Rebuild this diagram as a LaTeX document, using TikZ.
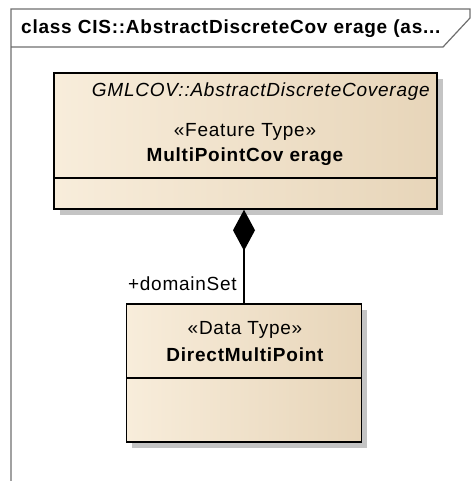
\documentclass[tikz,border=0pt]{standalone}
\usepackage{fontspec}
\setmainfont{Liberation Sans}[LetterSpace=4]
\usetikzlibrary{arrows.meta}
\definecolor{frameline}{HTML}{6E6E6E}
\definecolor{cleft}{HTML}{F8EDDB}
\definecolor{cmid}{HTML}{FBF2E5}
\definecolor{cright}{HTML}{E7D5B9}
\definecolor{shadowc}{HTML}{C4C4C4}
\tikzset{
  umltext/.style={inner sep=0pt, font=\fontsize{19}{22}\selectfont},
  classbox/.style={draw=black, line width=1.5pt, left color=cleft, middle color=cmid, right color=cright, inner sep=0pt},
  sep/.style={line width=1.5pt},
  shadowbox/.style={fill=shadowc, draw=none},
}
\begin{document}
\begin{tikzpicture}[x=1pt,y=-1pt]
\useasboundingbox (0,0) rectangle (473,481);
% frame
\draw[frameline, line width=1.2pt] (11,481) -- (11,9) -- (470,9) -- (470,18) -- (443,47) -- (11,47);
\node[umltext, font=\fontsize{19}{22}\selectfont\bfseries, anchor=west] (title) at (21,29) {class CIS::AbstractDiscreteCov erage (as...};
% upper class
\fill[shadowbox] (60,79) rectangle (443,215);
\node[classbox, minimum width=383pt, minimum height=136pt] (upper) at (245.5,141) {};
\draw[sep] (54,178) -- (437,178);
\node[umltext, font=\fontsize{19}{22}\selectfont\itshape, anchor=east] (upperpkg) at (430,92) {GMLCOV::AbstractDiscreteCoverage};
\node[umltext] (upperst) at (245,132) {«Feature Type»};
\node[umltext, font=\fontsize{19}{22}\selectfont\bfseries] (uppername) at (245,157) {MultiPointCov erage};
% lower class
\fill[shadowbox] (132,310) rectangle (367,448);
\node[classbox, minimum width=235pt, minimum height=138pt] (lower) at (244,373) {};
\draw[sep] (126,378) -- (361,378);
\node[umltext] (lowerst) at (245,330) {«Data Type»};
\node[umltext, font=\fontsize{19}{22}\selectfont\bfseries] (lowername) at (245,355) {DirectMultiPoint};
% composition
\draw[line width=2pt, -{Diamond[length=41pt,width=22pt,fill=black]}] (lower.north) -- (upper.south -| lower.north);
\node[umltext, anchor=east] (role) at (237,284) {+domainSet};
\end{tikzpicture}
\end{document}
